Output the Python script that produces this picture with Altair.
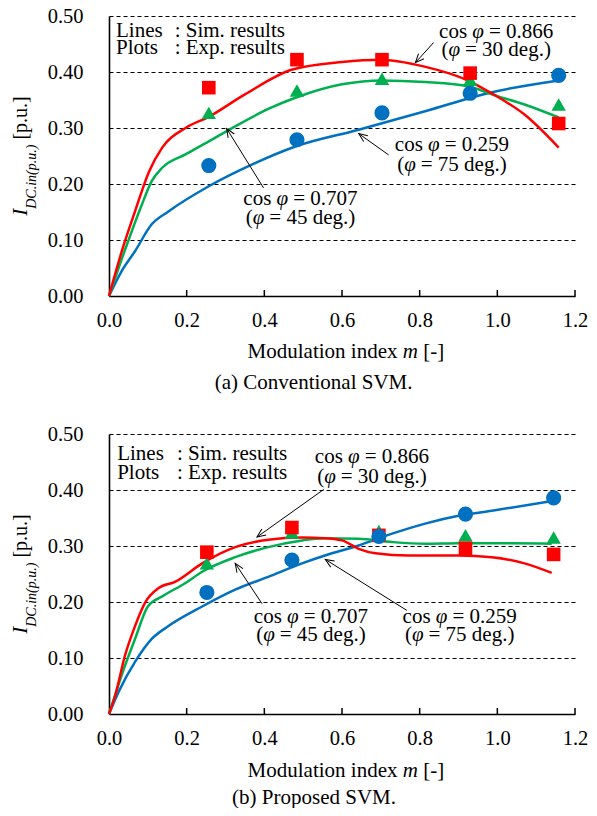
import math
import altair as alt
import pandas as pd

FONT = "Liberation Serif"
W, H = 466, 280
XMAX, YMAX = 1.2, 0.5
PPX, PPY = W / XMAX, H / YMAX

SERIES = ["0.866", "0.707", "0.259"]
COLORS = ["#FF0000", "#00B050", "#0070C0"]
SHAPES = ["square", "triangle-up", "circle"]
MARK_SIZES = [185, 230, 195]

X_TICKS = [0.0, 0.2, 0.4, 0.6, 0.8, 1.0, 1.2]
Y_TICKS = [0.0, 0.1, 0.2, 0.3, 0.4, 0.5]

# ---------------- (a) Conventional SVM ----------------
A_SIM_866_M = [0, 0.033, 0.067, 0.103, 0.137, 0.197, 0.257, 0.35, 0.47, 0.6, 0.7, 0.81, 0.93, 0.99, 1.07, 1.158]
A_SIM_866_I = [0, 0.080, 0.151, 0.222, 0.265, 0.300, 0.320, 0.360, 0.404, 0.418, 0.422, 0.410, 0.383, 0.360, 0.324, 0.265]
A_SIM_707_M = [0, 0.040, 0.085, 0.110, 0.137, 0.197, 0.257, 0.325, 0.41, 0.48, 0.6, 0.703, 0.814, 0.927, 0.986, 1.07, 1.158]
A_SIM_707_I = [0, 0.080, 0.164, 0.205, 0.229, 0.253, 0.276, 0.303, 0.334, 0.354, 0.378, 0.385, 0.382, 0.374, 0.360, 0.342, 0.319]
A_SIM_259_M = [0, 0.033, 0.067, 0.110, 0.153, 0.257, 0.369, 0.48, 0.643, 0.814, 0.986, 1.158]
A_SIM_259_I = [0, 0.045, 0.080, 0.128, 0.151, 0.196, 0.235, 0.267, 0.297, 0.330, 0.364, 0.385]

A_EXP_M = [0.257, 0.484, 0.703, 0.930, 1.158]
A_EXP_866 = [0.372, 0.422, 0.422, 0.398, 0.308]
A_EXP_707 = [0.327, 0.367, 0.388, 0.386, 0.342]
A_EXP_259 = [0.233, 0.279, 0.327, 0.362, 0.394]

# ---------------- (b) Proposed SVM ----------------
B_SIM_866_M = [0, 0.016, 0.041, 0.067, 0.093, 0.128, 0.17, 0.24, 0.325, 0.41, 0.497, 0.556, 0.6, 0.643, 0.686, 0.772, 0.9, 0.986, 1.07, 1.14]
B_SIM_866_I = [0, 0.033, 0.104, 0.157, 0.199, 0.225, 0.236, 0.269, 0.298, 0.311, 0.315, 0.314, 0.310, 0.295, 0.287, 0.283, 0.283, 0.280, 0.269, 0.252]
B_SIM_707_M = [0, 0.041, 0.067, 0.100, 0.137, 0.197, 0.24, 0.325, 0.41, 0.497, 0.556, 0.643, 0.729, 0.814, 0.9, 0.986, 1.14]
B_SIM_707_I = [0, 0.086, 0.134, 0.192, 0.210, 0.234, 0.254, 0.280, 0.298, 0.310, 0.314, 0.313, 0.307, 0.304, 0.305, 0.305, 0.304]
B_SIM_259_M = [0, 0.025, 0.067, 0.110, 0.153, 0.24, 0.325, 0.41, 0.497, 0.556, 0.643, 0.729, 0.814, 0.9, 0.986, 1.14]
B_SIM_259_I = [0, 0.040, 0.093, 0.134, 0.157, 0.192, 0.222, 0.245, 0.269, 0.283, 0.301, 0.322, 0.340, 0.354, 0.363, 0.380]

B_EXP_M = [0.252, 0.471, 0.695, 0.918, 1.145]
B_EXP_866 = [0.289, 0.333, 0.319, 0.296, 0.285]
B_EXP_707 = [0.269, 0.324, 0.327, 0.319, 0.315]
B_EXP_259 = [0.217, 0.275, 0.317, 0.357, 0.386]

# ---------------- texts ----------------
NOTE_LEFT = ["Lines", "Plots"]
NOTE_RIGHT = [": Sim. results", ": Exp. results"]
PF_LABELS = ["cos *φ* = 0.866", "cos *φ* = 0.707", "cos *φ* = 0.259"]
DEG_LABELS = ["(*φ* = 30 deg.)", "(*φ* = 45 deg.)", "(*φ* = 75 deg.)"]
X_TITLE = "Modulation index *m* [-]"
CAPTIONS = ["(a) Conventional SVM.", "(b) Proposed SVM."]

A_NOTE_POS = dict(x_left=0.018, x_colon=0.169, y=[0.463, 0.433])
B_NOTE_POS = dict(x_left=0.021, x_colon=0.175, y=[0.454, 0.420])
A_LABEL_POS = [(0.997, 0.4615, 0.428), (0.493, 0.162, 0.128), (0.883, 0.259, 0.223)]
B_LABEL_POS = [(0.677, 0.448, 0.4125), (0.520, 0.163, 0.130), (0.903, 0.163, 0.130)]
A_ARROWS = [(0.836, 0.4526, 0.789, 0.4167), (0.398, 0.193, 0.303, 0.299), (0.720, 0.252, 0.643, 0.290)]
B_ARROWS = [(0.553, 0.401, 0.381, 0.316), (0.394, 0.197, 0.325, 0.269), (0.767, 0.185, 0.557, 0.276)]
A_XTITLE_Y, B_XTITLE_Y = -0.110, -0.113
A_CAPTION_XY, B_CAPTION_XY = (0.527, -0.1667), (0.528, -0.160)

TXT = 21
TICK_TXT = 20.5

REG = {' ': 250, '(': 333, ')': 333, '.': 250, ':': 278, '=': 564, '-': 333, '[': 333, ']': 333,
       'a': 444, 'b': 500, 'c': 444, 'd': 500, 'e': 444, 'g': 500, 'i': 278, 'l': 278, 'm': 778,
       'n': 500, 'o': 500, 'p': 500, 'r': 333, 's': 389, 't': 278, 'u': 500, 'v': 500, 'x': 500,
       'C': 667, 'D': 722, 'E': 611, 'I': 333, 'L': 611, 'M': 889, 'P': 556, 'S': 556, 'V': 722,
       'φ': 520}
ITA = {'m': 722, 'φ': 540, 'I': 333, 'D': 722, 'C': 667, '.': 250, 'i': 278, 'n': 500,
       '(': 333, ')': 333, 'p': 500, 'u': 500, ' ': 250}


def text_w(s, italic, size):
    table = ITA if italic else REG
    return sum(table.get(ch, 500) for ch in s) * size / 1000.0


def add_segments(rows, segs, x, y, align="center", angle=0):
    widths = [text_w(t, it, sz) for t, it, sz, sh in segs]
    total = sum(widths)
    off = {"left": 0.0, "center": -total / 2.0, "right": -total}[align]
    for (t, it, sz, sh), w in zip(segs, widths):
        lead = text_w(t[: len(t) - len(t.lstrip())], it, sz)
        pos = off + lead
        if angle == 0:
            rows.append(dict(x=x + pos / PPX, y=y - sh / PPY, text=t.strip(), size=sz, angle=0, italic=it))
        else:
            rows.append(dict(x=x + sh / PPX, y=y + pos / PPY, text=t.strip(), size=sz, angle=270, italic=it))
        off += w


def add_markup(rows, s, x, y, size=TXT, align="center"):
    parts = s.split("*")
    segs = [(p, i % 2 == 1, size, 0) for i, p in enumerate(parts) if p]
    add_segments(rows, segs, x, y, align)


def panel(sims, exp_m, exps, note_pos, label_pos, arrows, xtitle_y, caption, caption_xy):
    xs = alt.Scale(domain=[0, XMAX], nice=False, zero=False)
    ys = alt.Scale(domain=[0, YMAX], nice=False, zero=False)
    cscale = alt.Scale(domain=SERIES, range=COLORS)

    xax = alt.Axis(values=X_TICKS, format=".1f", grid=False, ticks=False, domainColor="black",
                   domainWidth=1.6, labelFont=FONT, labelFontSize=TICK_TXT, labelColor="black",
                   labelPadding=14, labelFlush=False, labelOverlap=False)
    yax = alt.Axis(values=Y_TICKS, format=".2f", grid=True, gridColor="black", gridDash=[4, 3],
                   gridWidth=1, ticks=False, domainColor="black", domainWidth=1.6, labelFont=FONT,
                   labelFontSize=TICK_TXT, labelColor="black", labelPadding=26, labelOverlap=False)

    def X(f):
        return alt.X(f, scale=xs, axis=xax, title=None)

    def Y(f):
        return alt.Y(f, scale=ys, axis=yax, title=None)

    sim_rows = []
    for pf, ms, vs in sims:
        for m, v in zip(ms, vs):
            sim_rows.append({"pf": pf, "m": m, "i": v})
    sim_df = pd.DataFrame(sim_rows)

    exp_rows = []
    for pf in ["0.707", "0.866", "0.259"]:
        for m, v in zip(exp_m, exps[pf]):
            exp_rows.append({"pf": pf, "m": m, "i": v})
    exp_df = pd.DataFrame(exp_rows)

    lines = alt.Chart(sim_df).mark_line(strokeWidth=2.5, interpolate="monotone").encode(
        x=X("m:Q"), y=Y("i:Q"),
        color=alt.Color("pf:N", scale=cscale, legend=None),
    )
    points = alt.Chart(exp_df).mark_point(filled=True, opacity=1, strokeWidth=0).encode(
        x=X("m:Q"), y=Y("i:Q"),
        color=alt.Color("pf:N", scale=cscale, legend=None),
        shape=alt.Shape("pf:N", scale=alt.Scale(domain=SERIES, range=SHAPES), legend=None),
        size=alt.Size("pf:N", scale=alt.Scale(domain=SERIES, range=MARK_SIZES), legend=None),
    )
    ticks = alt.Chart(pd.DataFrame({"t": X_TICKS[1:]})).mark_rule(color="black", strokeWidth=1.5).encode(
        x=X("t:Q"), y=alt.value(H), y2=alt.value(H - 6)
    )

    arr_rows = []
    for x1, y1, x2, y2 in arrows:
        dxp = (x2 - x1) * PPX
        dyp = -(y2 - y1) * PPY
        ang = math.degrees(math.atan2(dxp, -dyp)) % 360
        arr_rows.append(dict(x1=x1, y1=y1, x2=x2, y2=y2, ang=ang))
    arr_df = pd.DataFrame(arr_rows)
    arr_lines = alt.Chart(arr_df).mark_rule(color="black", strokeWidth=1).encode(
        x=X("x1:Q"), y=Y("y1:Q"), x2="x2:Q", y2="y2:Q",
    )
    arr_heads = alt.Chart(arr_df).mark_point(
        shape="M -0.42 1 L 0 0 L 0.42 1", filled=False, color="black", strokeWidth=1, opacity=1, size=300
    ).encode(
        x=X("x2:Q"), y=Y("y2:Q"), angle=alt.Angle("ang:Q", scale=None),
    )

    rows = []
    for k in range(2):
        add_markup(rows, NOTE_LEFT[k], note_pos["x_left"], note_pos["y"][k], align="left")
        add_markup(rows, NOTE_RIGHT[k], note_pos["x_colon"], note_pos["y"][k], align="left")
    for k in range(3):
        cx, y1, y2 = label_pos[k]
        add_markup(rows, PF_LABELS[k], cx, y1)
        add_markup(rows, DEG_LABELS[k], cx, y2)
    add_markup(rows, X_TITLE, 0.61, xtitle_y)
    add_markup(rows, caption, caption_xy[0], caption_xy[1])
    ytitle = [("I", True, 21, 0), ("DC.in(p.u.)", True, 14, 9), (" [p.u.]", False, 20, 0)]
    add_segments(rows, ytitle, -82 / PPX, 0.25, align="center", angle=270)
    tdf = pd.DataFrame(rows)

    def text_layer(italic):
        mk = dict(font=FONT, align="left", baseline="alphabetic", color="black")
        if italic:
            mk["fontStyle"] = "italic"
        return alt.Chart(tdf[tdf["italic"] == italic]).mark_text(**mk).encode(
            x=X("x:Q"), y=Y("y:Q"),
            text="text:N", size=alt.Size("size:Q", scale=None), angle=alt.Angle("angle:Q", scale=None),
        )

    return alt.layer(lines, points, ticks, arr_lines, arr_heads, text_layer(False), text_layer(True)).properties(
        width=W, height=H
    )


pa = panel(
    [("0.259", A_SIM_259_M, A_SIM_259_I), ("0.707", A_SIM_707_M, A_SIM_707_I), ("0.866", A_SIM_866_M, A_SIM_866_I)],
    A_EXP_M, {"0.866": A_EXP_866, "0.707": A_EXP_707, "0.259": A_EXP_259},
    A_NOTE_POS, A_LABEL_POS, A_ARROWS, A_XTITLE_Y, CAPTIONS[0], A_CAPTION_XY,
)
pb = panel(
    [("0.259", B_SIM_259_M, B_SIM_259_I), ("0.707", B_SIM_707_M, B_SIM_707_I), ("0.866", B_SIM_866_M, B_SIM_866_I)],
    B_EXP_M, {"0.866": B_EXP_866, "0.707": B_EXP_707, "0.259": B_EXP_259},
    B_NOTE_POS, B_LABEL_POS, B_ARROWS, B_XTITLE_Y, CAPTIONS[1], B_CAPTION_XY,
)

chart = alt.vconcat(pa, pb, spacing=30).properties(
    padding={"left": 1, "top": -2, "right": 0, "bottom": 0}
).configure_view(strokeWidth=0)

chart.save("out.html", embed_options={"renderer": "svg", "actions": False})
